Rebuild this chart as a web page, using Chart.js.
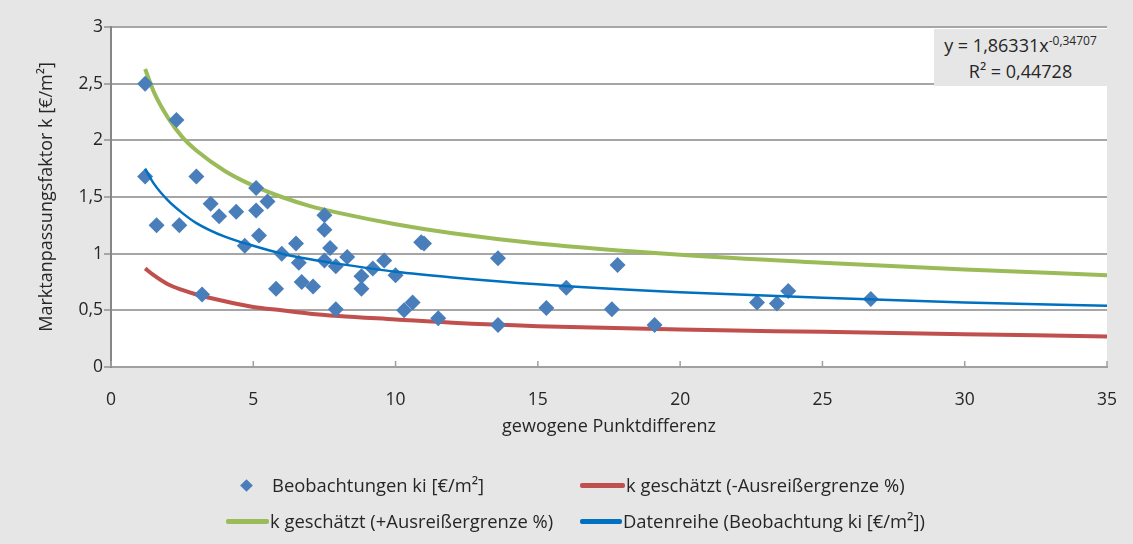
<!DOCTYPE html>
<html>
<head>
<meta charset="utf-8">
<script src="https://cdn.jsdelivr.net/npm/chart.js@4.4.1/dist/chart.umd.min.js"></script>
<style>
  body { margin: 0; background: #e6e6e6; font-family: 'Open Sans', sans-serif; color: #262626; }
  #wrap { position: relative; width: 1133px; height: 544px; }
  #eq { position: absolute; left: 934px; top: 29px; width: 173px; height: 57px; background: #e6e6e6;
        text-align: center; font-size: 18px; line-height: 26px; padding-top: 3px; box-sizing: border-box; }
  #eq sup { font-size: 12px; vertical-align: 7px; line-height: 0; }
  .lg { position: absolute; font-size: 18.4px; white-space: nowrap; line-height: 22px; }
  .lg .sym { position: absolute; }
</style>
</head>
<body>
<div id="wrap">
  <canvas id="chart" width="1133" height="544"></canvas>
  <div id="eq">y = 1,86331x<sup>-0,34707</sup><br>R² = 0,44728</div>
  <div id="legend"></div>
</div>
<script>
// observations (gewogene Punktdifferenz, k)
const obsX = [1.2, 2.3, 1.2, 3.0, 1.6, 2.4, 3.5, 3.8, 4.4, 5.1, 5.1, 5.5, 5.2, 4.7, 3.2, 6.0, 6.5, 6.6, 5.8, 6.7,
              7.1, 7.5, 7.5, 7.7, 7.5, 7.9, 8.3, 7.9, 8.8, 8.8, 9.2, 9.6, 10.0, 10.3, 10.6, 10.9, 11.0, 11.5, 13.6, 13.6,
              15.3, 16.0, 17.6, 17.8, 19.1, 22.7, 23.4, 23.8, 26.7];
const obsY = [2.5, 2.18, 1.68, 1.68, 1.25, 1.25, 1.44, 1.33, 1.37, 1.58, 1.38, 1.46, 1.16, 1.07, 0.64, 1.0, 1.09, 0.92, 0.69, 0.75,
              0.71, 1.34, 1.21, 1.05, 0.94, 0.89, 0.97, 0.51, 0.8, 0.69, 0.87, 0.94, 0.81, 0.5, 0.57, 1.1, 1.09, 0.43, 0.96, 0.37,
              0.52, 0.7, 0.51, 0.9, 0.37, 0.57, 0.56, 0.67, 0.6];

// curves read along the x axis
const curveX = [1.2, 1.5, 2, 2.5, 3, 4, 5, 6, 7, 8, 10, 12, 15, 20, 25, 30, 35];
const upperY = [2.63, 2.43, 2.2, 2.03, 1.91, 1.73, 1.6, 1.5, 1.42, 1.36, 1.26, 1.18, 1.09, 0.99, 0.92, 0.86, 0.81];
const lowerY = [0.87, 0.81, 0.73, 0.68, 0.64, 0.58, 0.53, 0.5, 0.47, 0.45, 0.42, 0.39, 0.36, 0.33, 0.31, 0.29, 0.27];
const trendY = [1.75, 1.62, 1.47, 1.36, 1.27, 1.15, 1.07, 1.0, 0.95, 0.91, 0.84, 0.79, 0.73, 0.66, 0.61, 0.57, 0.54];

const labels = ["Beobachtungen ki [€/m²]", "k geschätzt (-Ausreißergrenze %)",
                "k geschätzt (+Ausreißergrenze %)", "Datenreihe (Beobachtung ki [€/m²])"];

function pts(xs, ys) {
    return xs.map((x, i) => ({x: x, y: ys[i]}));
}

Chart.defaults.font.family = "'Open Sans', sans-serif";
Chart.defaults.font.size = 18;
Chart.defaults.color = '#262626';

const whiteArea = {
    id: 'whiteArea',
    beforeDraw(chart) {
        const a = chart.chartArea, ctx = chart.ctx;
        ctx.save();
        ctx.fillStyle = '#ffffff';
        ctx.fillRect(a.left, a.top, a.right - a.left, a.bottom - a.top);
        ctx.restore();
    },
    afterDraw(chart) {
        // small inner tick marks on the x axis
        const xs = chart.scales.x, ctx = chart.ctx;
        ctx.save();
        ctx.strokeStyle = '#a0a0a0';
        ctx.lineWidth = 1.5;
        xs.ticks.forEach(t => {
            const px = xs.getPixelForValue(t.value);
            ctx.beginPath();
            ctx.moveTo(px, chart.chartArea.bottom - 6);
            ctx.lineTo(px, chart.chartArea.bottom);
            ctx.stroke();
        });
        ctx.restore();
    }
};

const chart = new Chart(document.getElementById('chart'), {
    type: 'scatter',
    data: {
        datasets: [
            {
                label: labels[0],
                data: pts(obsX, obsY),
                pointStyle: 'rectRot',
                pointRadius: 8,
                pointHoverRadius: 8,
                backgroundColor: '#4a7ebb',
                borderColor: '#4a7ebb',
                borderWidth: 0,
                order: 1
            },
            {
                label: labels[1],
                type: 'line',
                data: pts(curveX, lowerY),
                borderColor: '#c0504d',
                borderWidth: 4,
                pointRadius: 0,
                cubicInterpolationMode: 'monotone',
                fill: false,
                order: 2
            },
            {
                label: labels[2],
                type: 'line',
                data: pts(curveX, upperY),
                borderColor: '#9bbb59',
                borderWidth: 4,
                pointRadius: 0,
                cubicInterpolationMode: 'monotone',
                fill: false,
                order: 3
            },
            {
                label: labels[3],
                type: 'line',
                data: pts(curveX, trendY),
                borderColor: '#0070c0',
                borderWidth: 2.5,
                pointRadius: 0,
                cubicInterpolationMode: 'monotone',
                fill: false,
                order: 0
            }
        ]
    },
    options: {
        responsive: false,
        animation: false,
        layout: { padding: { top: 27, right: 26, left: 0, bottom: 0 } },
        plugins: { legend: { display: false }, tooltip: { enabled: false } },
        scales: {
            x: {
                type: 'linear',
                min: 0, max: 35,
                ticks: { stepSize: 5, padding: 15, font: { size: 17.5 } },
                grid: { display: false },
                border: { color: '#a0a0a0', width: 2 },
                title: { display: true, text: 'gewogene Punktdifferenz', padding: { top: 0, bottom: 106 } },
                afterFit(scale) { scale.height = 177; }
            },
            y: {
                min: 0, max: 3,
                ticks: {
                    stepSize: 0.5, padding: 1, font: { size: 17.5 },
                    callback: v => String(v).replace('.', ',')
                },
                grid: { color: '#a6a6a6', lineWidth: 2, tickLength: 7 },
                border: { color: '#868686', width: 2 },
                title: { display: true, text: 'Marktanpassungsfaktor k [€/m²]', padding: { top: 36, bottom: 0 } },
                afterFit(scale) { scale.width = 111; }
            }
        }
    },
    plugins: [whiteArea]
});

// legend, two rows like the original
const legendPos = [
    {left: 272, top: 474, sym: 'diamond', sx: 242},
    {left: 626, top: 474, sym: 'line', sx: 580},
    {left: 270, top: 510, sym: 'line', sx: 226},
    {left: 623, top: 510, sym: 'line', sx: 580}
];
const lg = document.getElementById('legend');
chart.data.datasets.forEach((ds, i) => {
    const p = legendPos[i];
    const t = document.createElement('div');
    t.className = 'lg';
    t.style.left = p.left + 'px';
    t.style.top = p.top + 'px';
    t.textContent = ds.label;
    lg.appendChild(t);
    const s = document.createElement('div');
    s.className = 'lg sym';
    if (p.sym === 'diamond') {
        s.style.cssText = 'left:' + p.sx + 'px;top:' + (p.top + 7) + 'px;width:9px;height:9px;transform:rotate(45deg);background:' + ds.backgroundColor;
    } else {
        s.style.cssText = 'left:' + p.sx + 'px;top:' + (p.top + 9) + 'px;width:' + (p.left - p.sx - 1) + 'px;height:5px;border-radius:2px;background:' + ds.borderColor;
    }
    lg.appendChild(s);
});
</script>
</body>
</html>
